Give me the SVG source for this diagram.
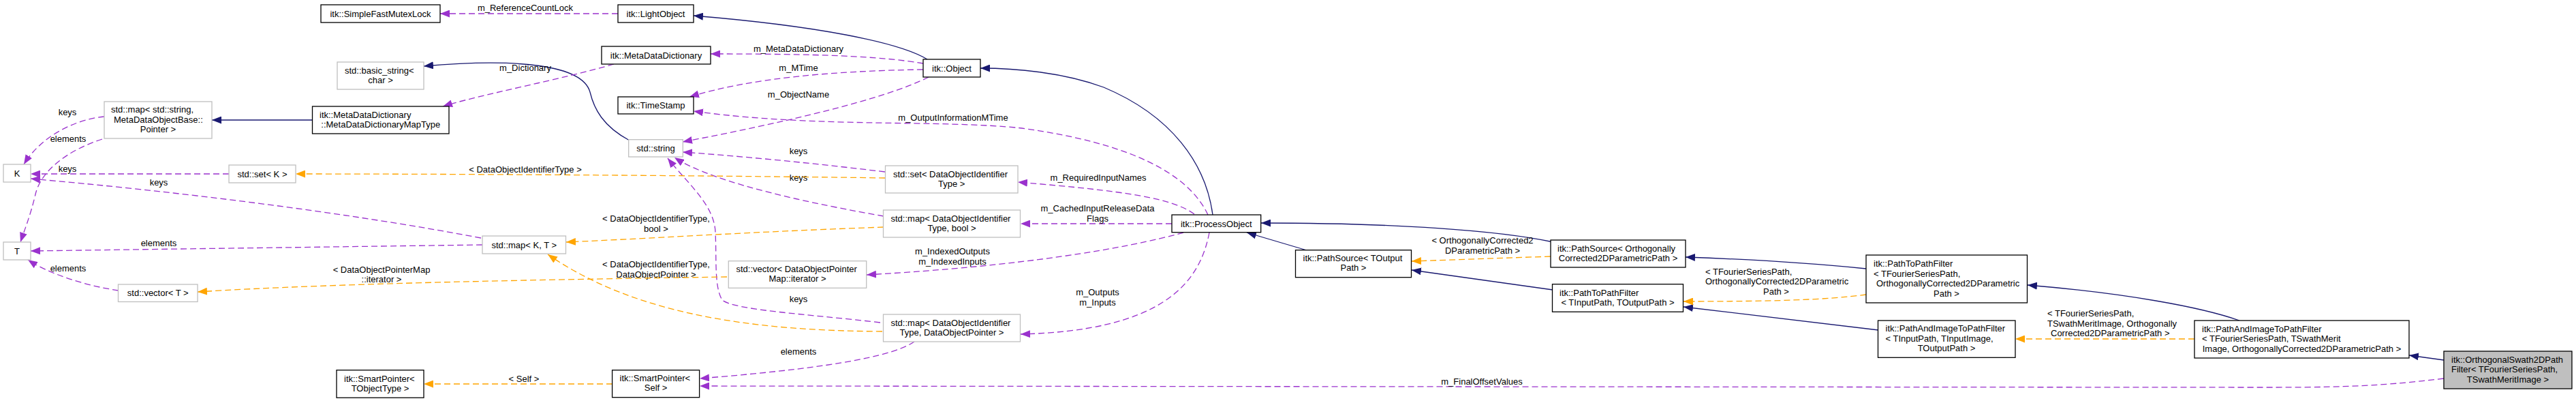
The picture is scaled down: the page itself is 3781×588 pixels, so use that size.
<svg xmlns="http://www.w3.org/2000/svg" width="3781" height="588" viewBox="0 0 3781 588">
<style>
text{font-family:"Liberation Sans",Arial,sans-serif;font-size:13px;fill:#000}
.c{text-anchor:middle}
.nb rect{fill:#fff;stroke:#000;stroke-width:1.3}
.ng rect{fill:#fff;stroke:#bfbfbf;stroke-width:1.3}
.nm rect{fill:#bfbfbf;stroke:#000;stroke-width:1.3}
.inh{fill:none;stroke:#191970;stroke-width:1.3;marker-end:url(#an)}
.use{fill:none;stroke:#9a32cd;stroke-width:1.3;stroke-dasharray:9 5;marker-end:url(#ap)}
.tpl{fill:none;stroke:#ffa500;stroke-width:1.3;stroke-dasharray:9 5;marker-end:url(#ao)}
</style>
<defs>
<marker id="an" markerUnits="userSpaceOnUse" markerWidth="14" markerHeight="11" refX="14" refY="5.5" orient="auto"><path d="M0,0 L14,5.5 L0,11 z" fill="#191970"/></marker>
<marker id="ap" markerUnits="userSpaceOnUse" markerWidth="14" markerHeight="11" refX="14" refY="5.5" orient="auto"><path d="M0,0 L14,5.5 L0,11 z" fill="#9a32cd"/></marker>
<marker id="ao" markerUnits="userSpaceOnUse" markerWidth="14" markerHeight="11" refX="14" refY="5.5" orient="auto"><path d="M0,0 L14,5.5 L0,11 z" fill="#ffa500"/></marker>
</defs>
<rect x="0" y="0" width="3781" height="588" fill="#fff"/>

<g id="connectors">
<g><path class="inh" d="M1361,87 C1320,62 1200,38 1018,23"/></g>
<g><path class="inh" d="M924,206 C885,185 872,160 866,135 C855,95 760,85 622,97"/></g>
<g><path class="inh" d="M458,176 L311,176"/></g>
<g><path class="inh" d="M1780,315 C1770,240 1720,170 1620,128 C1560,106 1490,100 1439,100"/></g>
<g><path class="inh" d="M1918,367 L1830,341"/></g>
<g><path class="inh" d="M2280,355 C2200,338 2050,327 1851,327"/></g>
<g><path class="inh" d="M2279,425 L2072,396"/></g>
<g><path class="inh" d="M2739,394 C2650,385 2560,380 2474,377"/></g>
<g><path class="inh" d="M2757,484 L2471,450"/></g>
<g><path class="inh" d="M3287,470 C3230,450 3120,430 2976,418"/></g>
<g><path class="inh" d="M3587,528 L3536,521"/></g>

<g><path class="use" d="M907,20 L646,20"/><text class="c" x="771" y="16">m_ReferenceCountLock</text></g>
<g><path class="use" d="M1355,93 C1290,82 1200,79 1043,79"/><text class="c" x="1172" y="75.5">m_MetaDataDictionary</text></g>
<g><path class="use" d="M1355,102 C1220,104 1100,115 1012,142"/><text class="c" x="1172" y="103.5">m_MTime</text></g>
<g><path class="use" d="M1363,113 C1300,145 1150,180 1002,208"/><text class="c" x="1172" y="142.5">m_ObjectName</text></g>
<g><path class="use" d="M1773,315 C1745,255 1660,210 1500,188 C1380,175 1200,188 1018,163"/><text class="c" x="1399" y="176.5">m_OutputInformationMTime</text></g>
<g><path class="use" d="M901,94 C830,115 700,140 650,156"/><text class="c" x="771" y="103.5">m_Dictionary</text></g>
<g><path class="use" d="M1299,252 C1200,240 1100,230 1002,223"/><text class="c" x="1172" y="225.5">keys</text></g>
<g><path class="use" d="M1297,317 C1200,300 1050,270 990,231"/><text class="c" x="1172" y="264.5">keys</text></g>
<g><path class="use" d="M1292,473 C1180,460 1080,455 1060,440 C1048,420 1052,380 1050,340 C1048,300 1010,270 980,232"/><text class="c" x="1172" y="442.5">keys</text></g>
<g><path class="use" d="M1753,314 C1720,290 1650,280 1494,267"/><text class="c" x="1612" y="265">m_RequiredInputNames</text></g>
<g><path class="use" d="M1720,328 L1498,328"/><text class="c" x="1611" y="309.5">m_CachedInputReleaseData</text><text class="c" x="1611" y="324.5">Flags</text></g>
<g><path class="use" d="M1737,341 C1650,365 1500,390 1272,403"/><text class="c" x="1398" y="372.5">m_IndexedOutputs</text><text class="c" x="1398" y="387.5">m_IndexedInputs</text></g>
<g><path class="use" d="M1775,341 C1760,420 1700,485 1498,490"/><text class="c" x="1611" y="432.5">m_Outputs</text><text class="c" x="1611" y="447.5">m_Inputs</text></g>
<g><path class="use" d="M3587,555 C3480,568 3420,568 3300,568 L1027,566"/><text class="c" x="2175" y="563.5">m_FinalOffsetValues</text></g>
<g><path class="use" d="M1342,501 C1300,530 1150,545 1027,555"/><text class="c" x="1172" y="519.5">elements</text></g>
<g><path class="use" d="M153,171 C110,175 60,200 35,241"/><text class="c" x="99" y="168.5">keys</text></g>
<g><path class="use" d="M150,204 C100,220 60,250 52,285 C45,315 35,340 30,355"/><text class="c" x="100" y="207.5">elements</text></g>
<g><path class="use" d="M336,255 L45,255"/><text class="c" x="99" y="251.5">keys</text></g>
<g><path class="use" d="M706,349 C500,310 250,280 45,262"/><text class="c" x="233" y="271.5">keys</text></g>
<g><path class="use" d="M708,359 L45,368"/><text class="c" x="233" y="360.5">elements</text></g>
<g><path class="use" d="M174,426 C120,418 70,400 41,381"/><text class="c" x="100" y="397.5">elements</text></g>

<g><path class="tpl" d="M1299,261 C1100,258 700,255 434,255"/><text class="c" x="771" y="252.5">&lt; DataObjectIdentifierType &gt;</text></g>
<g><path class="tpl" d="M1297,333 C1100,340 950,350 831,355"/><text class="c" x="963" y="325">&lt; DataObjectIdentifierType,</text><text class="c" x="963" y="340">bool &gt;</text></g>
<g><path class="tpl" d="M1295,486 C1100,485 930,460 804,373"/><text class="c" x="963" y="391.5">&lt; DataObjectIdentifierType,</text><text class="c" x="963" y="406.5">DataObjectPointer &gt;</text></g>
<g><path class="tpl" d="M1067,406 C800,410 500,415 290,428"/><text class="c" x="560" y="399.5">&lt; DataObjectPointerMap</text><text class="c" x="560" y="413.5">::iterator &gt;</text></g>
<g><path class="tpl" d="M899,563 L622,563"/><text class="c" x="769" y="559.5">&lt; Self &gt;</text></g>
<g><path class="tpl" d="M2276,376 L2072,383"/><text class="c" x="2176" y="356.5">&lt; OrthogonallyCorrected2</text><text class="c" x="2176" y="371.5">DParametricPath &gt;</text></g>
<g><path class="tpl" d="M2739,432 C2680,440 2600,442 2471,442"/><text x="2503" y="402.5">&lt; TFourierSeriesPath,</text><text x="2503" y="417">OrthogonallyCorrected2DParametric</text><text class="c" x="2607" y="431.5">Path &gt;</text></g>
<g><path class="tpl" d="M3221,497 L2958,497"/><text x="3005" y="464">&lt; TFourierSeriesPath,</text><text x="3005" y="478.5">TSwathMeritImage, Orthogonally</text><text x="3010" y="493">Corrected2DParametricPath &gt;</text></g>
</g>

<g id="n_sfml" class="nb"><rect x="471" y="7" width="175" height="26"/><text class="c" x="558.5" y="24.5">itk::SimpleFastMutexLock</text></g>
<g id="n_lightobj" class="nb"><rect x="907" y="7" width="111" height="26"/><text class="c" x="962.5" y="24.5">itk::LightObject</text></g>
<g id="n_mdd" class="nb"><rect x="883" y="68" width="160" height="26"/><text class="c" x="963" y="85.5">itk::MetaDataDictionary</text></g>
<g id="n_object" class="nb"><rect x="1355" y="87" width="84" height="26"/><text class="c" x="1397" y="104.5">itk::Object</text></g>
<g id="n_timestamp" class="nb"><rect x="907" y="142" width="111" height="25"/><text class="c" x="962.5" y="159">itk::TimeStamp</text></g>
<g id="n_basicstr" class="ng"><rect x="495" y="91" width="127" height="40"/><text x="506" y="107.5">std::basic_string&lt;</text><text class="c" x="558.5" y="121.5">char &gt;</text></g>
<g id="n_mapstr" class="ng"><rect x="153" y="149" width="158" height="54"/><text x="163" y="165">std::map&lt; std::string,</text><text x="167" y="179.5">MetaDataObjectBase::</text><text class="c" x="232" y="194">Pointer &gt;</text></g>
<g id="n_mddmap" class="nb"><rect x="458.5" y="156" width="200.5" height="40"/><text x="469" y="172.5">itk::MetaDataDictionary</text><text class="c" x="558.75" y="186.5">::MetaDataDictionaryMapType</text></g>
<g id="n_K" class="ng"><rect x="5" y="241" width="40" height="26"/><text class="c" x="25" y="258.5">K</text></g>
<g id="n_T" class="ng"><rect x="5" y="355" width="40" height="26"/><text class="c" x="25" y="372.5">T</text></g>
<g id="n_setK" class="ng"><rect x="336" y="242" width="98" height="26"/><text class="c" x="385" y="259.5">std::set&lt; K &gt;</text></g>
<g id="n_vecT" class="ng"><rect x="173.5" y="417" width="116.5" height="25.5"/><text class="c" x="231.75" y="434">std::vector&lt; T &gt;</text></g>
<g id="n_mapKT" class="ng"><rect x="708" y="346" width="122.5" height="26"/><text class="c" x="769.25" y="363.5">std::map&lt; K, T &gt;</text></g>
<g id="n_string" class="ng"><rect x="922.7" y="204.7" width="79.6" height="25.3"/><text class="c" x="962.5" y="221.8">std::string</text></g>
<g id="n_setDOIT" class="ng"><rect x="1299.5" y="243" width="194.5" height="40"/><text x="1311" y="259.5">std::set&lt; DataObjectIdentifier</text><text class="c" x="1396.75" y="273.5">Type &gt;</text></g>
<g id="n_mapbool" class="ng"><rect x="1296.5" y="308" width="201" height="40"/><text x="1307.5" y="324.5">std::map&lt; DataObjectIdentifier</text><text class="c" x="1397" y="338.5">Type, bool &gt;</text></g>
<g id="n_vecDOP" class="ng"><rect x="1069.3" y="382.7" width="202.4" height="39.6"/><text x="1080.5" y="399">std::vector&lt; DataObjectPointer</text><text class="c" x="1170.5" y="413">Map::iterator &gt;</text></g>
<g id="n_mapDOP" class="ng"><rect x="1296.5" y="461" width="201" height="40"/><text x="1307.5" y="477.5">std::map&lt; DataObjectIdentifier</text><text class="c" x="1397" y="491.5">Type, DataObjectPointer &gt;</text></g>
<g id="n_spSelf" class="nb"><rect x="898.6" y="542.7" width="128" height="40"/><text x="909.5" y="559">itk::SmartPointer&lt;</text><text class="c" x="962.6" y="573">Self &gt;</text></g>
<g id="n_spT" class="nb"><rect x="494" y="542.7" width="128" height="40.5"/><text x="505" y="559.5">itk::SmartPointer&lt;</text><text class="c" x="558" y="573.5">TObjectType &gt;</text></g>
<g id="n_procobj" class="nb"><rect x="1720" y="315" width="130.7" height="25.7"/><text class="c" x="1785.3" y="332.5">itk::ProcessObject</text></g>
<g id="n_psT" class="nb"><rect x="1901.5" y="366.7" width="170" height="40"/><text x="1912.5" y="383">itk::PathSource&lt; TOutput</text><text class="c" x="1986.5" y="397">Path &gt;</text></g>
<g id="n_psOC" class="nb"><rect x="2276" y="352" width="198" height="40"/><text x="2286" y="368.5">itk::PathSource&lt; Orthogonally</text><text class="c" x="2375" y="382.5">Corrected2DParametricPath &gt;</text></g>
<g id="n_ptpT" class="nb"><rect x="2278.5" y="416.7" width="192" height="40.6"/><text x="2289" y="433.5">itk::PathToPathFilter</text><text class="c" x="2374.5" y="447.5">&lt; TInputPath, TOutputPath &gt;</text></g>
<g id="n_ptpF" class="nb"><rect x="2739" y="374" width="236.5" height="70"/><text x="2750" y="391">itk::PathToPathFilter</text><text x="2750" y="405.5">&lt; TFourierSeriesPath,</text><text x="2754" y="420">OrthogonallyCorrected2DParametric</text><text class="c" x="2857" y="434.5">Path &gt;</text></g>
<g id="n_paiT" class="nb"><rect x="2756.5" y="470" width="201.5" height="54.3"/><text x="2767.5" y="486">itk::PathAndImageToPathFilter</text><text x="2767.5" y="500.5">&lt; TInputPath, TInputImage,</text><text class="c" x="2857" y="515">TOutputPath &gt;</text></g>
<g id="n_paiF" class="nb"><rect x="3221" y="470" width="315" height="55"/><text x="3232" y="486.5">itk::PathAndImageToPathFilter</text><text x="3232" y="501">&lt; TFourierSeriesPath, TSwathMerit</text><text class="c" x="3378.5" y="515.5">Image, OrthogonallyCorrected2DParametricPath &gt;</text></g>
<g id="n_main" class="nm"><rect x="3587" y="515" width="188" height="55"/><text x="3598" y="531.5">itk::OrthogonalSwath2DPath</text><text x="3598" y="546">Filter&lt; TFourierSeriesPath,</text><text class="c" x="3681" y="560.5">TSwathMeritImage &gt;</text></g>
</svg>
